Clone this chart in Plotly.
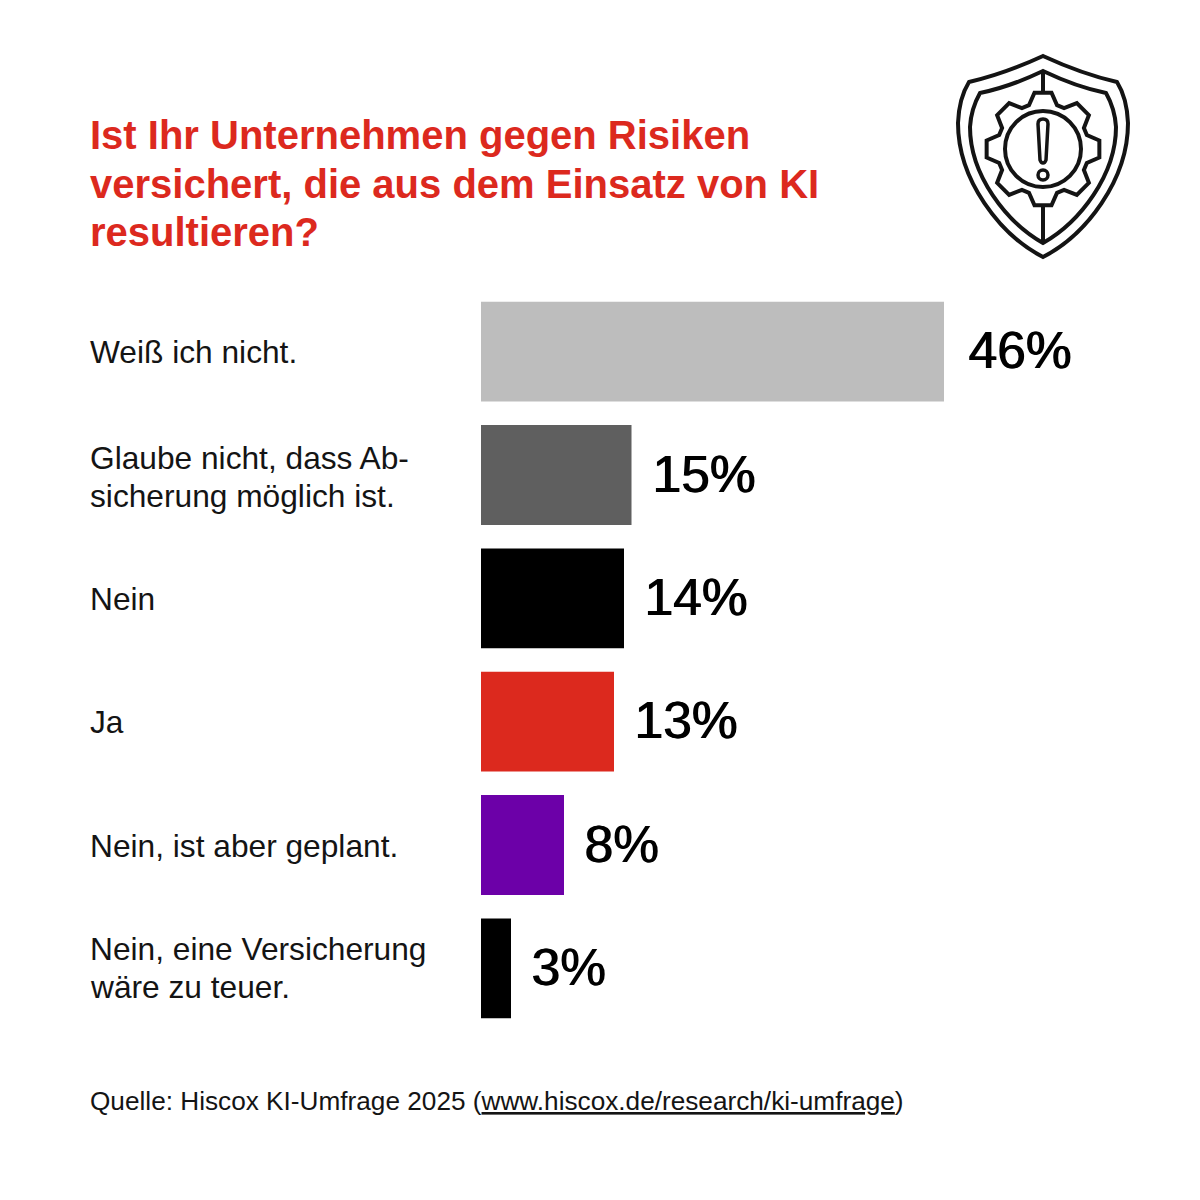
import math
import plotly.graph_objects as go

categories = ["Weiß ich nicht.", "Glaube nicht, dass Ab-<br>sicherung möglich ist.", "Nein", "Ja", "Nein, ist aber geplant.", "Nein, eine Versicherung<br>wäre zu teuer."]
values = [46, 15, 14, 13, 8, 3]
bar_widths = [46.3, 15.05, 14.3, 13.3, 8.3, 3.0]
labels = ["46%", "15%", "14%", "13%", "8%", "3%"]
colors = ["#bdbdbd", "#5f5f5f", "#000000", "#dc291e", "#6c00a8", "#000000"]
title_lines = ["Ist Ihr Unternehmen gegen Risiken", "versichert, die aus dem Einsatz von KI", "resultieren?"]
source = "Quelle: Hiscox KI-Umfrage 2025 (<u>www.hiscox.de/research/ki-umfrage</u>)"
FONT = "Liberation Sans"

# page offset of the plot: browser body margin is 8 px
OFF = 8
L, T, PW, PH = 473, 282, 727, 740

def px(x):
    return (x - OFF - L) / PW

def py(y):
    return 1 - (y - OFF - T) / PH

def pt(p):
    return f"{px(p[0]):.5f},{py(p[1]):.5f}"

def pth(points, close=False):
    s = " ".join(p if isinstance(p, str) else pt(p) for p in points)
    return s + (" Z" if close else "")

fig = go.Figure(go.Bar(
    y=list(range(6)), x=bar_widths, orientation="h",
    marker=dict(color=colors, line=dict(width=0)), width=0.81,
    cliponaxis=False, hoverinfo="skip",
))
fig.update_layout(
    width=1200, height=1200, margin=dict(l=L, r=0, t=T, b=1200 - T - PH),
    paper_bgcolor="white", plot_bgcolor="white", showlegend=False,
    xaxis=dict(range=[0, 72.7], visible=False),
    yaxis=dict(range=[5.5, -0.5], showgrid=False, zeroline=False, showline=False, ticks="", showticklabels=False),
)

def text(t, y, size, color="#141414", weight="normal"):
    fig.add_annotation(text=t, xref="paper", yref="paper", x=px(88), y=py(y), xanchor="left", yanchor="middle",
                       align="left", showarrow=False,
                       font=dict(family=FONT, size=size, color=color, weight=weight))

for t, y in zip(title_lines, [135, 184, 232]):
    text(t, y, 40, "#dc291e", "bold")

for c, y in zip(categories, [352, 477, 599, 722, 846, 968]):
    parts = c.split("<br>")
    if len(parts) == 1:
        text(c, y, 31.7)
    else:
        text(parts[0], y - 19, 31.7)
        text(parts[1], y + 19, 31.7)

text(source, 1101, 26.2)

for i, (v, lab) in enumerate(zip(bar_widths, labels)):
    fig.add_annotation(text=lab, x=v, y=i, xanchor="left", yanchor="middle", xshift=22 if i == 0 else 18, yshift=1.5,
                       showarrow=False,
                       font=dict(family=FONT, size=51.5, color="#000", shadow="1.2px 0 0 #000"))

# shield icon (decoration)
ICON = dict(color="#141414", width=4)
cx = 1043

def m(p):
    return (2 * cx - p[0], p[1])

def shield(top, sh, edge, ctrl1, ctrl2, bot):
    sag = ((top[0] + sh[0]) / 2 - 2, (top[1] + sh[1]) / 2 + 5)
    corner = (edge[0] + 1, sh[1] + 16)
    return pth(["M", top, "Q", sag, sh, "Q", corner, edge,
                "C", ctrl1, ctrl2, bot,
                "C", m(ctrl2), m(ctrl1), m(edge),
                "Q", m(corner), m(sh), "Q", m(sag), top], close=True)

fig.add_shape(type="path", xref="paper", yref="paper", line=ICON,
              path=shield((cx, 56), (969, 82), (958, 123), (958, 180), (1000, 235), (cx, 257)))
fig.add_shape(type="path", xref="paper", yref="paper", line=ICON,
              path=shield((cx, 71), (980, 93), (970, 127), (970, 175), (1006, 222), (cx, 243)))
fig.add_shape(type="line", xref="paper", yref="paper", line=ICON, x0=px(cx), x1=px(cx), y0=py(71), y1=py(92))
fig.add_shape(type="line", xref="paper", yref="paper", line=ICON, x0=px(cx), x1=px(cx), y0=py(206), y1=py(243))

gy = 149
gear = []
for k in range(8):
    a = k * math.pi / 4 - math.pi / 2
    for r, d in [(46, -0.31), (57, -0.15), (57, 0.15), (46, 0.31)]:
        gear.append((cx + r * math.cos(a + d), gy + r * math.sin(a + d)))
gear_path = "M " + pt(gear[0]) + " " + " ".join("L " + pt(p) for p in gear[1:]) + " Z"
fig.add_shape(type="path", xref="paper", yref="paper", line=ICON, path=gear_path)

def circle(x, y, r, w=4):
    fig.add_shape(type="circle", xref="paper", yref="paper", line=dict(color="#141414", width=w),
                  x0=px(x - r), x1=px(x + r), y0=py(y + r), y1=py(y - r))

circle(cx, gy, 38)
circle(cx, 175, 5, 3.5)
fig.add_shape(type="path", xref="paper", yref="paper", line=dict(color="#141414", width=3.5),
              path=pth(["M", (1038, 124), "Q", (1038, 119), (1043, 119), "Q", (1048, 119), (1048, 124),
                        "L", (1046, 160), "Q", (1045, 163), (1043, 163), "Q", (1041, 163), (1040, 160)], close=True))

fig.write_html("out.html")
